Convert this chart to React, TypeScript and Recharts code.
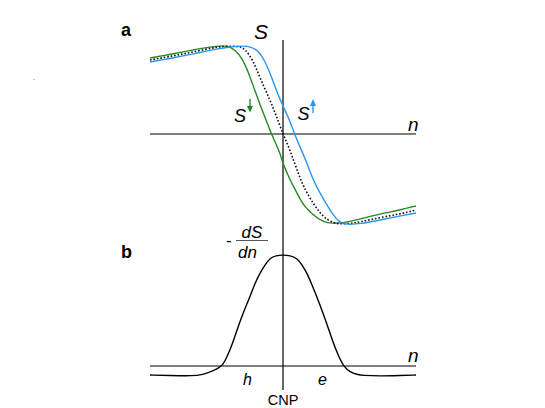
import { LineChart, Line, XAxis, YAxis, ReferenceLine } from 'recharts';

// panel a: S versus n (n = 0 at the CNP)
const sDown = [
  { n: -133, s: 76 }, { n: -116, s: 79 }, { n: -100, s: 82 }, { n: -83, s: 85.5 },
  { n: -66, s: 88 }, { n: -55, s: 88.5 }, { n: -48, s: 84 }, { n: -41, s: 76 },
  { n: -35, s: 63 }, { n: -28, s: 43 }, { n: -21, s: 24 }, { n: -15, s: 9 },
  { n: -12, s: 1 }, { n: -7, s: -10 }, { n: -3, s: -19 }, { n: 0, s: -30 },
  { n: 7, s: -46 }, { n: 14, s: -59 }, { n: 20, s: -71 }, { n: 30, s: -81 },
  { n: 40, s: -88 }, { n: 50, s: -89.5 }, { n: 60, s: -89 }, { n: 77, s: -85 },
  { n: 97, s: -80 }, { n: 117, s: -76 }, { n: 133, s: -72 },
];

const sTotal = [
  { n: -133, s: 74 }, { n: -116, s: 77 }, { n: -100, s: 80 }, { n: -83, s: 83.5 },
  { n: -66, s: 87 }, { n: -53, s: 88 }, { n: -43, s: 87.5 }, { n: -38, s: 85 },
  { n: -30, s: 74 }, { n: -23, s: 56 }, { n: -13, s: 34 }, { n: -7, s: 19 },
  { n: 0, s: 0 }, { n: 7, s: -16 }, { n: 14, s: -36 }, { n: 20.5, s: -53 },
  { n: 31, s: -71 }, { n: 40, s: -83 }, { n: 50, s: -89 }, { n: 57, s: -90 },
  { n: 67, s: -89.5 }, { n: 77, s: -88 }, { n: 97, s: -83.5 }, { n: 117, s: -80 },
  { n: 133, s: -76 },
];

const sUp = [
  { n: -133, s: 72 }, { n: -116, s: 75 }, { n: -100, s: 78 }, { n: -83, s: 81.5 },
  { n: -66, s: 85 }, { n: -51, s: 87.5 }, { n: -35, s: 88.5 }, { n: -25, s: 84 },
  { n: -18, s: 73 }, { n: -11, s: 56 }, { n: -5, s: 39 }, { n: 0, s: 28 },
  { n: 7, s: 13 }, { n: 11.5, s: 0 }, { n: 17, s: -13 }, { n: 24, s: -29 },
  { n: 30, s: -46 }, { n: 37, s: -59 }, { n: 44, s: -71 }, { n: 50, s: -81 },
  { n: 57, s: -89 }, { n: 64, s: -90.5 }, { n: 77, s: -90 }, { n: 97, s: -86 },
  { n: 117, s: -82 }, { n: 133, s: -79 },
];

// panel b: -dS/dn
const dSdn = [
  { n: -133, v: -9 }, { n: -113, v: -9.5 }, { n: -90, v: -10 }, { n: -80, v: -8.5 },
  { n: -73, v: -6 }, { n: -66, v: -3 }, { n: -60, v: 1 }, { n: -56, v: 9 },
  { n: -51, v: 21 }, { n: -46, v: 36 }, { n: -40, v: 53 }, { n: -33, v: 69 },
  { n: -28, v: 83 }, { n: -23, v: 93 }, { n: -18, v: 101 }, { n: -13, v: 108 },
  { n: -7, v: 110.5 }, { n: 0, v: 111 }, { n: 7, v: 110.5 }, { n: 14, v: 108 },
  { n: 19, v: 101 }, { n: 24, v: 93 }, { n: 29, v: 81 }, { n: 34, v: 69 },
  { n: 40, v: 53 }, { n: 46, v: 36 }, { n: 51, v: 21 }, { n: 56, v: 9 },
  { n: 61, v: -1 }, { n: 67, v: -6 }, { n: 74, v: -8.5 }, { n: 80, v: -9.5 },
  { n: 97, v: -10 }, { n: 117, v: -9.5 }, { n: 133, v: -9 },
];

const font = '"Liberation Sans", Arial, sans-serif';
const green = '#238a23';
const blue = '#2b95f2';

export default function App() {
  return (
    <div style={{ position: 'absolute', left: 0, top: 0, width: 545, height: 408, background: '#fff' }}>
      <div style={{ position: 'absolute', left: 0, top: 0 }}>
        <LineChart width={545} height={408} margin={{ top: 40, bottom: 178, left: 150, right: 129 }}>
          <XAxis type="number" dataKey="n" domain={[-133, 133]} hide allowDuplicatedCategory={false} />
          <YAxis type="number" domain={[-96, 94]} hide />
          <ReferenceLine y={0} stroke="#000" strokeWidth={1.2} />
          <ReferenceLine x={0} stroke="#000" strokeWidth={1.2} />
          <Line data={sDown} dataKey="s" type="basis" stroke={green} strokeWidth={1.4} dot={false} isAnimationActive={false} />
          <Line data={sTotal} dataKey="s" type="basis" stroke="#111" strokeWidth={1.6} strokeDasharray="1.6 1.9" dot={false} isAnimationActive={false} />
          <Line data={sUp} dataKey="s" type="basis" stroke={blue} strokeWidth={1.4} dot={false} isAnimationActive={false} />
        </LineChart>
      </div>
      <div style={{ position: 'absolute', left: 0, top: 0 }}>
        <LineChart width={545} height={408} margin={{ top: 230, bottom: 18, left: 150, right: 129 }}>
          <XAxis type="number" dataKey="n" domain={[-133, 133]} hide />
          <YAxis type="number" domain={[-24, 136]} hide />
          <ReferenceLine y={0} stroke="#000" strokeWidth={1.2} />
          <ReferenceLine x={0} stroke="#000" strokeWidth={1.2} />
          <Line data={dSdn} dataKey="v" type="basis" stroke="#000" strokeWidth={1.4} dot={false} isAnimationActive={false} />
        </LineChart>
      </div>
      <svg width={545} height={408} style={{ position: 'absolute', left: 0, top: 0, pointerEvents: 'none' }}>
        <g fontFamily={font}>
          <text x={121} y={36} fontSize={18} fontWeight="bold">a</text>
          <text x={121} y={258} fontSize={18} fontWeight="bold">b</text>
          <text x={254} y={38.5} fontSize={21} fontStyle="italic">S</text>
          <text x={408} y={131} fontSize={19} fontStyle="italic">n</text>
          <text x={408} y={362} fontSize={19} fontStyle="italic">n</text>

          <text x={234} y={122} fontSize={18} fontStyle="italic">S</text>
          <line x1={250} y1={99} x2={250} y2={107} stroke={green} strokeWidth={1.4} />
          <polygon points="247,106 253,106 250,112.5" fill={green} />

          <text x={297.5} y={119.5} fontSize={18} fontStyle="italic">S</text>
          <line x1={313} y1={113} x2={313} y2={105} stroke={blue} strokeWidth={1.4} />
          <polygon points="310,106 316,106 313,99" fill={blue} />

          <text x={226} y={246} fontSize={17}>-</text>
          <text x={252} y={238} fontSize={17} fontStyle="italic" textAnchor="middle">dS</text>
          <line x1={236} y1={240.5} x2={268} y2={240.5} stroke="#555" strokeWidth={1} />
          <text x={247.5} y={258} fontSize={17} fontStyle="italic" textAnchor="middle">dn</text>

          <text x={243} y={385} fontSize={16} fontStyle="italic">h</text>
          <text x={318} y={385} fontSize={16} fontStyle="italic">e</text>
          <text x={283} y={405} fontSize={14.5} textAnchor="middle">CNP</text>
          <text x={33} y={80} fontSize={8} fill="#666">.</text>
        </g>
      </svg>
    </div>
  );
}
